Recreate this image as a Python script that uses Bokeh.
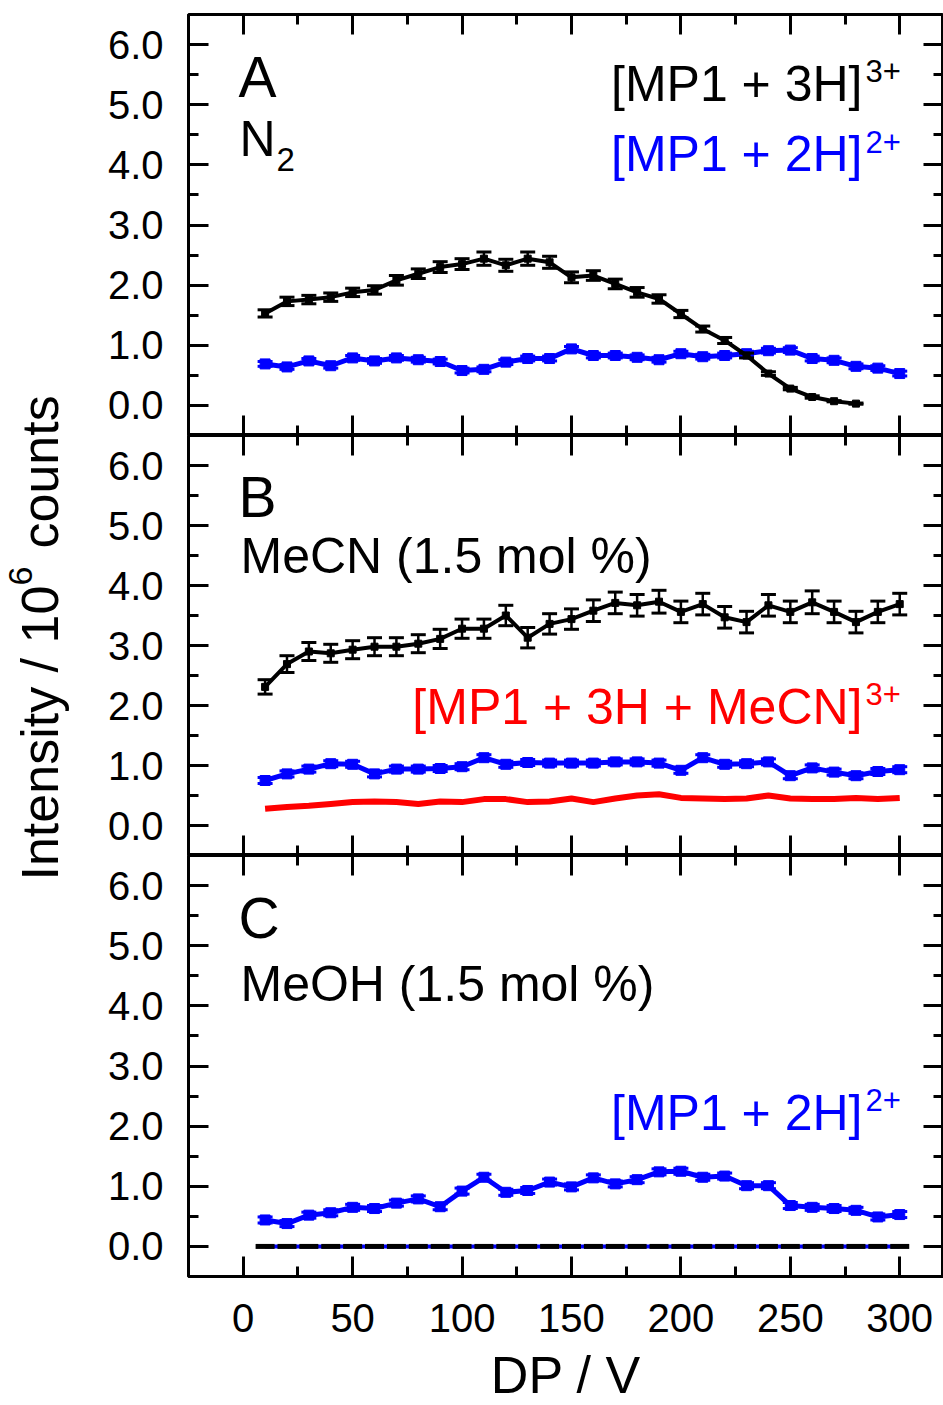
import numpy as np
from bokeh.plotting import figure
from bokeh.models import (Range1d, LinearAxis, FixedTicker, NumeralTickFormatter,
                          Label, ColumnDataSource, CustomJSTickFormatter)
from bokeh.layouts import row, column
from bokeh.embed import file_html
from bokeh.resources import INLINE

# ---------------- data ----------------
dp = [10, 20, 30, 40, 50, 60, 70, 80, 90, 100, 110, 120, 130, 140, 150,
      160, 170, 180, 190, 200, 210, 220, 230, 240, 250, 260, 270, 280, 290, 300]
dp_a_black = dp[:28]

# Panel A (N2)
a_3h = [1.53, 1.73, 1.76, 1.80, 1.88, 1.92, 2.08, 2.19, 2.30, 2.35, 2.44, 2.33, 2.44, 2.38,
        2.13, 2.16, 2.02, 1.88, 1.77, 1.52, 1.27, 1.08, 0.83, 0.53, 0.28, 0.14, 0.07, 0.03]
a_3h_err = [0.06, 0.07, 0.07, 0.07, 0.07, 0.07, 0.08, 0.08, 0.09, 0.09, 0.11, 0.10, 0.11, 0.10,
            0.09, 0.08, 0.08, 0.08, 0.07, 0.06, 0.05, 0.05, 0.04, 0.03, 0.02, 0.02, 0.01, 0.01]
a_2h = [0.69, 0.64, 0.74, 0.66, 0.79, 0.74, 0.79, 0.76, 0.73, 0.58, 0.60, 0.72, 0.78, 0.78, 0.94,
        0.83, 0.83, 0.80, 0.76, 0.86, 0.81, 0.83, 0.86, 0.91, 0.92, 0.78, 0.75, 0.65, 0.62, 0.53]
a_2h_err = [0.04] * 30

# Panel B (MeCN 1.5 mol %)
b_3h = [2.31, 2.69, 2.90, 2.87, 2.93, 2.98, 2.98, 3.03, 3.11, 3.28, 3.28, 3.50, 3.13, 3.36, 3.44,
        3.58, 3.71, 3.67, 3.73, 3.56, 3.69, 3.47, 3.39, 3.67, 3.56, 3.72, 3.56, 3.39, 3.56, 3.69]
b_3h_err = [0.12, 0.14, 0.15, 0.15, 0.15, 0.15, 0.15, 0.15, 0.16, 0.16, 0.16, 0.17, 0.17, 0.17, 0.17,
            0.18, 0.18, 0.18, 0.19, 0.18, 0.18, 0.18, 0.18, 0.18, 0.18, 0.19, 0.18, 0.18, 0.18, 0.18]
b_2h = [0.75, 0.86, 0.94, 1.03, 1.02, 0.86, 0.94, 0.94, 0.95, 0.98, 1.13, 1.02, 1.05, 1.04, 1.04,
        1.04, 1.06, 1.06, 1.04, 0.92, 1.13, 1.02, 1.03, 1.06, 0.83, 0.96, 0.89, 0.83, 0.90, 0.93]
b_2h_err = [0.05] * 30
b_mecn = [0.28, 0.31, 0.33, 0.36, 0.39, 0.40, 0.39, 0.36, 0.40, 0.39, 0.44, 0.44, 0.39, 0.40, 0.45,
          0.39, 0.45, 0.50, 0.52, 0.46, 0.45, 0.44, 0.45, 0.50, 0.45, 0.44, 0.44, 0.46, 0.44, 0.46]

# Panel C (MeOH 1.5 mol %)
c_2h = [0.44, 0.38, 0.52, 0.56, 0.65, 0.63, 0.72, 0.79, 0.66, 0.92, 1.15, 0.90, 0.93, 1.07, 0.99,
        1.14, 1.04, 1.11, 1.24, 1.25, 1.15, 1.17, 1.01, 1.01, 0.68, 0.65, 0.63, 0.60, 0.49, 0.53]
c_2h_err = [0.05] * 30
c_3h = [0.0] * 30
c_adduct = [0.0] * 30

y_ticks = [0, 1, 2, 3, 4, 5, 6]
y_minor = [0.5, 1.5, 2.5, 3.5, 4.5, 5.5]
x_ticks = [0, 50, 100, 150, 200, 250, 300]
x_minor = [25, 75, 125, 175, 225, 275]
x_title = "DP / V"

FONT = "Liberation Sans"
BLUE = "#0000FF"
RED = "#FF0000"
BLACK = "#000000"

FRAME_LEFT = 188  # canvas x of frame left
SHIFT = 0.385     # empirical correction of Label baseline placement


def axis_style(ax, labels):
    ax.major_tick_in = 20
    ax.major_tick_out = 0
    ax.minor_tick_in = 10
    ax.minor_tick_out = 0
    ax.major_tick_line_width = 3
    ax.minor_tick_line_width = 3
    ax.axis_line_width = 3
    ax.major_tick_line_color = "black"
    ax.minor_tick_line_color = "black"
    ax.axis_line_color = "black"
    if labels:
        ax.major_label_text_font = FONT
        ax.major_label_text_font_size = "40px"
        ax.major_label_text_color = "black"
    else:
        ax.formatter = CustomJSTickFormatter(code="return ''")
        ax.major_label_text_font_size = "0px"


def make_fig(frame_h, top, bottom, x_labels):
    p = figure(frame_width=755, frame_height=frame_h,
               x_range=Range1d(-25, 320), y_range=Range1d(-0.5, 6.5),
               x_axis_type=None, y_axis_type=None, title=None,
               output_backend="svg", toolbar_location=None,
               min_border_left=FRAME_LEFT - 100, min_border_right=0,
               min_border_top=top, min_border_bottom=bottom)
    p.outline_line_color = "black"
    p.outline_line_width = 3
    p.background_fill_color = "white"
    p.border_fill_color = "white"

    yt = FixedTicker(ticks=y_ticks, minor_ticks=y_minor)
    xt = FixedTicker(ticks=x_ticks, minor_ticks=x_minor)

    left = LinearAxis(ticker=yt, formatter=NumeralTickFormatter(format="0.0"))
    axis_style(left, True)
    left.major_label_standoff = 25
    p.add_layout(left, "left")

    right = LinearAxis(ticker=FixedTicker(ticks=y_ticks, minor_ticks=y_minor), fixed_location=320)
    axis_style(right, False)
    p.add_layout(right, "right")

    topax = LinearAxis(ticker=FixedTicker(ticks=x_ticks, minor_ticks=x_minor), fixed_location=6.5)
    axis_style(topax, False)
    p.add_layout(topax, "above")

    if x_labels:
        bot = LinearAxis(ticker=xt, axis_label=x_title)
        axis_style(bot, True)
        bot.major_label_standoff = 27
        bot.axis_label_standoff = 11
        bot.axis_label_text_font = FONT
        bot.axis_label_text_font_size = "52px"
        bot.axis_label_text_font_style = "normal"
        bot.axis_label_text_color = "black"
    else:
        bot = LinearAxis(ticker=xt, fixed_location=-0.5)
        axis_style(bot, False)
    p.add_layout(bot, "below")
    return p


def add_text(p, text, cx, cy, frame_left, frame_bottom, size, color=BLACK, align="left", angle=0.0):
    p.add_layout(Label(x=cx - frame_left, y=frame_bottom - cy + SHIFT * size,
                       x_units="screen", y_units="screen", text=text,
                       text_font=FONT, text_font_size=f"{size}px",
                       text_color=color, text_align=align,
                       text_baseline="alphabetic", angle=angle))


def series(p, xs, ys, errs, color, lw, msize, cap):
    ys = np.array(ys)
    errs = np.array(errs)
    src = ColumnDataSource(dict(x=xs, y=ys, lo=ys - errs, hi=ys + errs))
    p.segment(x0="x", y0="lo", x1="x", y1="hi", source=src, line_color=color, line_width=2.5)
    p.scatter(x="x", y="lo", source=src, marker="dash", size=cap, line_color=color, line_width=3)
    p.scatter(x="x", y="hi", source=src, marker="dash", size=cap, line_color=color, line_width=3)
    p.line(x="x", y="y", source=src, line_color=color, line_width=lw)
    p.scatter(x="x", y="y", source=src, marker="square", size=msize,
              fill_color=color, line_color=color)


def strip(width, height):
    s = figure(width=width, height=height, x_range=Range1d(0, 1), y_range=Range1d(0, 1),
               x_axis_type=None, y_axis_type=None, title=None,
               output_backend="svg", toolbar_location=None, min_border=0)
    s.outline_line_color = None
    s.border_fill_color = "white"
    s.background_fill_color = "white"
    return s


# ---------------- Panel A ----------------
pa = make_fig(421, 14, 0, False)
series(pa, dp, a_2h, a_2h_err, BLUE, 5, 10, 15)
series(pa, dp_a_black, a_3h, a_3h_err, BLACK, 4, 7, 15)
FB_A = 435
add_text(pa, "A", 238, 98, FRAME_LEFT, FB_A, 57)
add_text(pa, "N", 239, 158, FRAME_LEFT, FB_A, 50)
add_text(pa, "2", 276, 172, FRAME_LEFT, FB_A, 33)
add_text(pa, "[MP1 + 3H]", 862, 103, FRAME_LEFT, FB_A, 50, BLACK, "right")
add_text(pa, "3+", 865, 82, FRAME_LEFT, FB_A, 31, BLACK)
add_text(pa, "[MP1 + 2H]", 862, 173, FRAME_LEFT, FB_A, 50, BLUE, "right")
add_text(pa, "2+", 865, 153, FRAME_LEFT, FB_A, 31, BLUE)

# ---------------- Panel B ----------------
pb = make_fig(420, 0, 0, False)
pb.line(x=dp, y=b_mecn, line_color=RED, line_width=6)
series(pb, dp, b_2h, b_2h_err, BLUE, 5, 10, 15)
series(pb, dp, b_3h, b_3h_err, BLACK, 4, 7, 15)
FB_B = 855
add_text(pb, "B", 238, 518, FRAME_LEFT, FB_B, 57)
add_text(pb, "MeCN (1.5 mol %)", 240, 575, FRAME_LEFT, FB_B, 50)
add_text(pb, "[MP1 + 3H + MeCN]", 862, 726, FRAME_LEFT, FB_B, 50, RED, "right")
add_text(pb, "3+", 865, 705, FRAME_LEFT, FB_B, 31, RED)

# ---------------- Panel C ----------------
pc = make_fig(421, 0, 129, True)
pc.line(x=dp, y=c_adduct, line_color=BLUE, line_width=4)
pc.scatter(x=dp, y=c_3h, marker="dash", size=19, line_color=BLACK, line_width=5)
series(pc, dp, c_2h, c_2h_err, BLUE, 5, 10, 15)
FB_C = 1276
add_text(pc, "C", 238, 939, FRAME_LEFT, FB_C, 57)
add_text(pc, "MeOH (1.5 mol %)", 240, 1003, FRAME_LEFT, FB_C, 50)
add_text(pc, "[MP1 + 2H]", 862, 1132, FRAME_LEFT, FB_C, 50, BLUE, "right")
add_text(pc, "2+", 865, 1111, FRAME_LEFT, FB_C, 31, BLUE)

# ---------------- y-axis title strip ----------------
yl = strip(100, 1405)
H = 1405
for txt, cx, cy, size in [("Intensity / 10", 60, 880, 52), ("6", 33, 585, 34), ("counts", 60, 548, 52)]:
    yl.add_layout(Label(x=cx - SHIFT * size, y=H - cy, x_units="screen", y_units="screen", text=txt,
                        text_font=FONT, text_font_size=f"{size}px", text_color=BLACK,
                        text_align="left", text_baseline="alphabetic", angle=np.pi / 2))

layout = row(yl, column(pa, pb, pc, spacing=0), spacing=0)
open("out.html", "w").write(file_html(layout, INLINE))
